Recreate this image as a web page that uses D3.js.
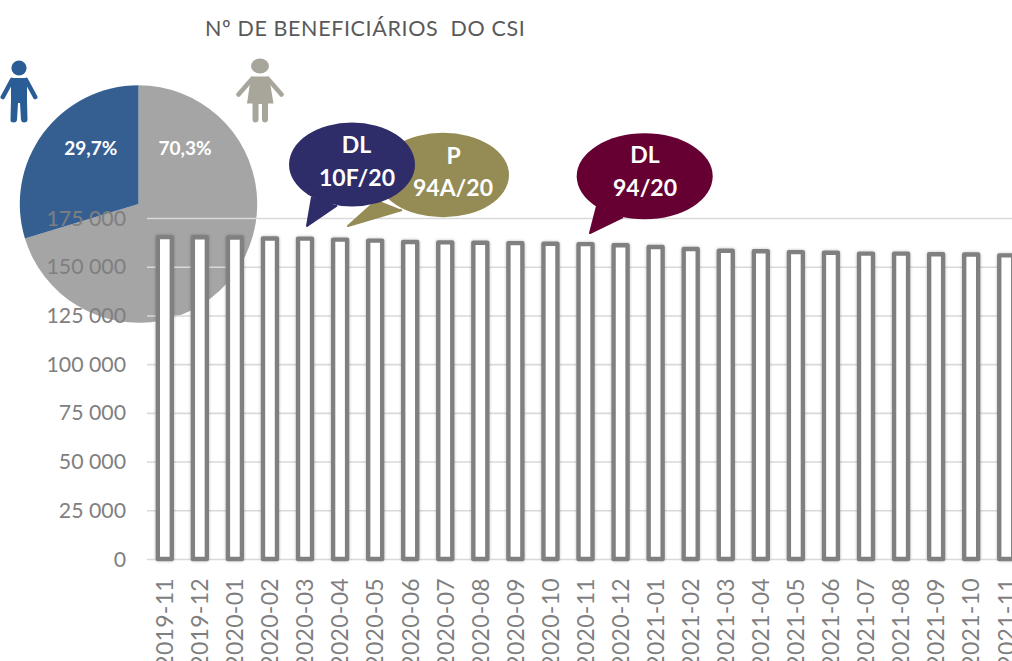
<!DOCTYPE html>
<html><head><meta charset="utf-8">
<style>html,body{margin:0;padding:0;background:#fff;overflow:hidden}svg{display:block}text{font-family:Lato,"Open Sans",sans-serif}</style>
<script src="https://cdn.jsdelivr.net/npm/d3@7/dist/d3.min.js"></script>
</head><body><svg id="c" width="1012" height="661"></svg>
<script>
const months = ["2019-11","2019-12","2020-01","2020-02","2020-03","2020-04","2020-05","2020-06","2020-07","2020-08","2020-09","2020-10","2020-11","2020-12","2021-01","2021-02","2021-03","2021-04","2021-05","2021-06","2021-07","2021-08","2021-09","2021-10","2021-11"];
const beneficiaries = [165200,165100,165000,164500,164400,163900,163400,162700,162500,162300,162100,161800,161600,161000,160100,159100,158200,157900,157500,157200,156700,156700,156400,156300,155800];
const yTicks = [0,25000,50000,75000,100000,125000,150000,175000];
const pieLabels = ["70,3%","29,7%"];
const pieValues = [70.3,29.7];
const pieColors = ["#a5a5a5","#365f91"];
const titleText = "Nº DE BENEFICIÁRIOS  DO CSI";

const svg = d3.select("#c");
const defs = svg.append("defs");
defs.append("filter").attr("id","soft").attr("x","-30%").attr("y","-5%").attr("width","160%").attr("height","110%")
  .append("feDropShadow").attr("dx",0).attr("dy",0).attr("stdDeviation",1.6).attr("flood-color","#000").attr("flood-opacity",.25);

svg.append("text").attr("x",205).attr("y",35.5).attr("fill","#595959").attr("font-size",21.5)
  .attr("letter-spacing",0.62).style("white-space","pre").text(titleText);

// pie
const arc = d3.arc().innerRadius(0).outerRadius(118.7);
const pieG = svg.append("g").attr("transform","translate(138.5,204)");
const pie = d3.pie().sort(null)(pieValues);
pieG.selectAll("path").data(pie).join("path").attr("d",arc).attr("fill",(d,i)=>pieColors[i]);
svg.selectAll(".pl").data([185,90.7]).join("text").attr("class","pl").attr("x",d=>d).attr("y",155)
  .attr("text-anchor","middle").attr("fill","#fff").attr("font-weight",700).attr("font-size",19)
  .text((d,i)=>pieLabels[i]);

// icons
const man = svg.append("g").attr("fill","#2a5d96").attr("stroke","#2a5d96");
man.append("ellipse").attr("cx",19).attr("cy",68).attr("rx",7.6).attr("ry",7.4).attr("stroke","none");
man.append("path").attr("stroke","none").attr("d","M11,78 L27,78 L27,100 L27.5,120 Q27,122.5 24,122.5 Q21.5,122.5 21,120 L20,103 L18,103 L17,120 Q16.5,122.5 13.5,122.5 Q10.5,122.5 10.5,120 L11,100 Z");
man.append("path").attr("fill","none").attr("stroke-width",4.6).attr("stroke-linecap","round").attr("stroke-linejoin","round").attr("d","M12,80 L2.8,97 M26,80 L35.2,97");
const woman = svg.append("g").attr("fill","#a8a59b").attr("stroke","#a8a59b");
woman.append("ellipse").attr("cx",260).attr("cy",66).attr("rx",9).attr("ry",7.5).attr("stroke","none");
woman.append("path").attr("stroke","none").attr("d","M251,76.5 L269,76.5 L273.5,103.5 L268,103.5 L268,120 Q267.5,122.5 265,122.5 Q262.5,122.5 262,120 L262,104 L258.5,104 L258.5,120 Q258,122.5 255.5,122.5 Q253,122.5 252.5,120 L252.5,103.5 L247,103.5 Z");
woman.append("path").attr("fill","none").attr("stroke-width",4.6).attr("stroke-linecap","round").attr("d","M252,79 L238.5,94.5 M268,79 L281.5,94.5");

// axes
const y = d3.scaleLinear().domain([0,175000]).range([559,218]);
const x = d3.scaleBand().domain(months).range([147.27,1023.77]).paddingInner(.6007).paddingOuter(.30035);
const fmt = d3.formatLocale({thousands:" ",grouping:[3],decimal:",",currency:["",""]}).format(",d");
const yAxis = svg.append("g").attr("transform","translate(147,0)")
  .call(d3.axisLeft(y).tickValues(yTicks).tickSize(-865).tickPadding(21).tickFormat(fmt));
yAxis.select(".domain").remove();
yAxis.selectAll(".tick line").attr("stroke","#d9d9d9").attr("stroke-width",1.6);
yAxis.selectAll(".tick text").attr("fill","#7f7f7f").attr("font-size",21.3).attr("dy",".33em").style("font-family","Lato");

svg.append("g").selectAll("rect").data(months).join("rect")
  .attr("x",d=>x(d)).attr("width",x.bandwidth())
  .attr("y",(d,i)=>y(beneficiaries[i])).attr("height",(d,i)=>y(0)-y(beneficiaries[i]))
  .attr("fill","#fff").attr("stroke","#808080").attr("stroke-width",4.4).attr("stroke-linejoin","round")
  .attr("filter","url(#soft)");

const xAxis = svg.append("g").attr("transform","translate(0,559)")
  .call(d3.axisBottom(x).tickSize(0));
xAxis.select(".domain").remove();
xAxis.selectAll(".tick text").attr("fill","#7f7f7f").attr("font-size",23).attr("letter-spacing",.3).style("font-family","Lato")
  .attr("text-anchor","end").attr("x",0).attr("y",0).attr("dy",".36em")
  .attr("transform","translate(0,19) rotate(-90)");

// callouts
function bubble(cx,cy,rx,ry,tail,fill,lines){
  const g = svg.append("g");
  g.append("ellipse").attr("cx",cx).attr("cy",cy).attr("rx",rx).attr("ry",ry).attr("fill",fill);
  g.append("path").attr("d",d3.line()(tail)).attr("fill",fill).attr("stroke",fill).attr("stroke-width",2).attr("stroke-linejoin","round");
  lines.forEach(l=>g.append("text").attr("x",l[0]).attr("y",l[1]).attr("text-anchor","middle").attr("fill","#fff").attr("font-weight",700).attr("font-size",23).text(l[2]));
}
bubble(443,175,66,42.3,[[377,200],[348,226],[402,210]],"#958b54",[[453.5,164,"P"],[453,196,"94A/20"]]);
bubble(352,164.5,63,42,[[312,197],[307,226],[337,205.5]],"#2e2d69",[[356.5,153,"DL"],[357,186,"10F/20"]]);
bubble(644.7,176.3,68,43,[[597,206],[590,233],[623,217]],"#660033",[[645,163,"DL"],[645,196,"94/20"]]);
</script></body></html>
